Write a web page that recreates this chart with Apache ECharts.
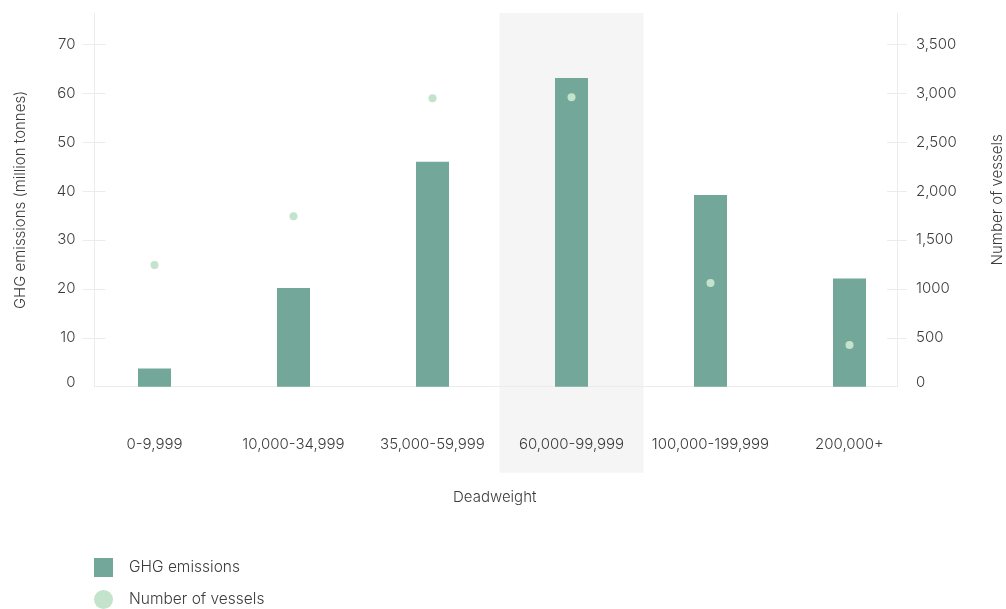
<!DOCTYPE html>
<html>
<head>
<meta charset="utf-8">
<title>GHG emissions and number of vessels by deadweight</title>
<script src="https://cdn.jsdelivr.net/npm/echarts@6/dist/echarts.min.js"></script>
<style>
  html, body { margin: 0; padding: 0; background: #ffffff; }
  #chart { width: 1006px; height: 609px; }
</style>
</head>
<body>
<div id="chart"></div>
<script>
// Deadweight size classes
const categories = ['0-9,999', '10,000-34,999', '35,000-59,999', '60,000-99,999', '100,000-199,999', '200,000+'];
// GHG emissions, million tonnes
const ghgEmissions = [3.7, 20.2, 46.0, 63.1, 39.2, 22.1];
// Number of vessels
const vesselCounts = [1244, 1743, 2948, 2958, 1061, 426];
// Axis ticks and their labels
const emissionTicks = [0, 10, 20, 30, 40, 50, 60, 70];
const vesselTicks = [0, 500, 1000, 1500, 2000, 2500, 3000, 3500];
const vesselTickLabels = ['0', '500', '1000', '1,500', '2,000', '2,500', '3,000', '3,500'];
// Category shown with the hover band
const highlighted = '60,000-99,999';

const EMISSION_MAX = 76.4;
const VESSEL_MAX = 3820;

const FONT = 'Inter, "Noto Sans", sans-serif';
const WEIGHT = 300;
const SIZE = 15;
const TEXT = '#3c3c3c';
const LINE = '#ececec';
const BAR = '#73a79a';
const DOT = '#c3e3cc';

const chart = echarts.init(document.getElementById('chart'), null, { renderer: 'canvas' });

const baseText = { fontSize: SIZE, color: TEXT, fontFamily: FONT, fontWeight: WEIGHT };
const labelRich = { z: Object.assign({ padding: [0, 0, 8, 0] }, baseText) };

function axisBase(extra) {
  return Object.assign({
    type: 'value',
    splitLine: { show: false },
    axisLine: { show: false },
    axisTick: { show: false },
    axisLabel: { show: false }
  }, extra);
}

function gridBox(left, right, bottom) {
  return { left, right, top: 13, bottom, containLabel: false, outerBoundsMode: 'none' };
}

const option = {
  animation: false,
  textStyle: { fontFamily: FONT },
  grid: [
    // plotting grid (category bands)
    gridBox(85, 87, 222.3),
    // axis-line frame
    gridBox(94.5, 109, 222.3),
    // hover band reaching under the category labels
    gridBox(85, 87, 136.3)
  ],
  xAxis: [
    {
      type: 'category', gridIndex: 0, data: categories,
      axisLine: { show: false }, axisTick: { show: false },
      axisLabel: Object.assign({ margin: 50, interval: 0 }, baseText)
    },
    {
      type: 'value', gridIndex: 1, min: 0, max: 1, z: 1,
      splitLine: { show: false }, axisTick: { show: false }, axisLabel: { show: false },
      axisLine: { show: true, lineStyle: { color: LINE, width: 1 } },
      name: 'Deadweight', nameLocation: 'middle', nameGap: 103,
      nameTextStyle: Object.assign({ padding: [0, 2, 0, 0] }, baseText)
    },
    {
      type: 'category', gridIndex: 2, data: categories, show: false
    }
  ],
  yAxis: [
    // 0: emissions scale for the bars
    axisBase({ gridIndex: 0, min: 0, max: EMISSION_MAX, position: 'left' }),
    // 1: vessel scale for the dots
    axisBase({ gridIndex: 0, min: 0, max: VESSEL_MAX, position: 'right' }),
    // 2: left axis line with inner ticks
    axisBase({
      gridIndex: 1, min: 0, max: EMISSION_MAX, position: 'left', z: 1,
      axisLine: { show: true, lineStyle: { color: LINE } },
      axisTick: { show: true, inside: true, length: 11, customValues: emissionTicks.slice(1), lineStyle: { color: LINE } }
    }),
    // 3: left labels and outer ticks
    axisBase({
      gridIndex: 1, min: 0, max: EMISSION_MAX, position: 'left', z: 1,
      axisTick: { show: true, inside: false, length: 12, customValues: emissionTicks.slice(1), lineStyle: { color: LINE } },
      axisLabel: Object.assign({
        show: true, customValues: emissionTicks, margin: 19,
        formatter: v => v === 0 ? '{z|0}' : String(v), rich: labelRich
      }, baseText),
      name: 'GHG emissions (million tonnes)', nameLocation: 'middle', nameGap: 67, nameRotate: 90,
      nameTextStyle: baseText
    }),
    // 4: right axis line with inner ticks
    axisBase({
      gridIndex: 1, min: 0, max: VESSEL_MAX, position: 'right', z: 1,
      axisLine: { show: true, lineStyle: { color: LINE } },
      axisTick: { show: true, inside: true, length: 10, customValues: vesselTicks.slice(1), lineStyle: { color: LINE } }
    }),
    // 5: right labels and outer ticks
    axisBase({
      gridIndex: 1, min: 0, max: VESSEL_MAX, position: 'right', z: 1,
      axisTick: { show: true, inside: false, length: 10, customValues: vesselTicks.slice(1), lineStyle: { color: LINE } },
      axisLabel: Object.assign({
        show: true, customValues: vesselTicks, margin: 19,
        formatter: v => {
          const s = vesselTickLabels[vesselTicks.indexOf(v)];
          return v === 0 ? '{z|' + s + '}' : s;
        },
        rich: labelRich
      }, baseText),
      name: 'Number of vessels', nameLocation: 'middle', nameGap: 93, nameRotate: 90,
      nameTextStyle: baseText
    }),
    // 6: band scale
    axisBase({ gridIndex: 2, min: 0, max: 1, show: false })
  ],
  legend: {
    orient: 'vertical', left: 94, top: 558, padding: 0,
    itemWidth: 19, itemHeight: 19, itemGap: 13,
    textStyle: Object.assign({}, baseText, { fontSize: 15.5, padding: [0, 0, 0, 11] }),
    data: [
      { name: 'GHG emissions', icon: 'rect' },
      { name: 'Number of vessels', icon: 'circle' }
    ]
  },
  series: [
    {
      name: 'hover band', type: 'bar', xAxisIndex: 2, yAxisIndex: 6,
      data: categories.map(c => (c === highlighted ? 1 : null)),
      barWidth: 144, silent: true, z: 0,
      itemStyle: { color: '#f5f5f5' }
    },
    {
      name: 'GHG emissions', type: 'bar', xAxisIndex: 0, yAxisIndex: 0,
      data: ghgEmissions, barWidth: 33, z: 2,
      itemStyle: { color: BAR }
    },
    {
      name: 'Number of vessels', type: 'scatter', xAxisIndex: 0, yAxisIndex: 1,
      data: vesselCounts, symbol: 'circle', symbolSize: 8, z: 3,
      itemStyle: { color: DOT, opacity: 1 }
    }
  ]
};

chart.setOption(option);
</script>
</body>
</html>
